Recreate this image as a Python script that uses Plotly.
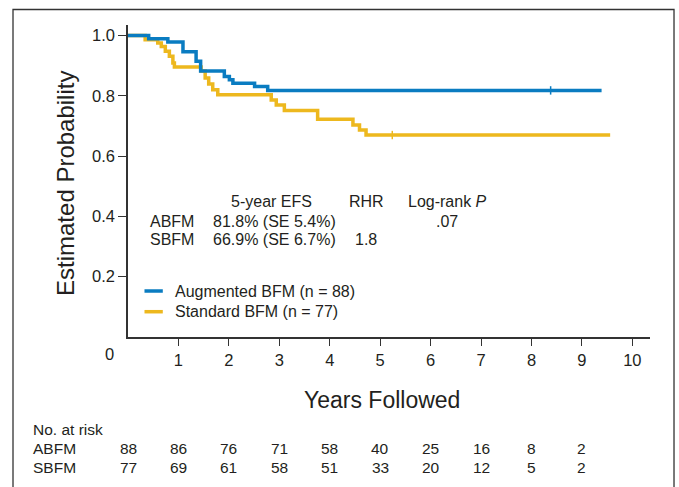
import plotly.graph_objects as go

# ---- data ----
abfm_t = [0, 0.41, 0.79, 1.09, 1.35, 1.44, 1.91, 2.01, 2.08, 2.51, 2.77, 9.39]
abfm_s = [1.0, 0.989, 0.979, 0.946, 0.915, 0.882, 0.864, 0.853, 0.842, 0.831, 0.818, 0.818]

sbfm_t = [0, 0.34, 0.59, 0.66, 0.74, 0.82, 0.89, 0.92, 1.45, 1.53, 1.60, 1.68, 1.78,
          2.84, 2.94, 3.10, 3.76, 4.46, 4.59, 4.72, 9.56]
sbfm_s = [1.0, 0.986, 0.975, 0.964, 0.948, 0.931, 0.909, 0.896, 0.882, 0.859, 0.839, 0.820, 0.804,
          0.786, 0.770, 0.751, 0.722, 0.703, 0.687, 0.670, 0.670]

abfm_cens_t = [8.38]
abfm_cens_s = [0.818]
sbfm_cens_t = [5.24]
sbfm_cens_s = [0.670]

x_ticks = [1, 2, 3, 4, 5, 6, 7, 8, 9, 10]
y_ticks = [0.2, 0.4, 0.6, 0.8, 1.0]
y_tick_labels = ["0.2", "0.4", "0.6", "0.8", "1.0"]

risk_times = [0, 1, 2, 3, 4, 5, 6, 7, 8, 9]
risk_abfm = [88, 86, 76, 71, 58, 40, 25, 16, 8, 2]
risk_sbfm = [77, 69, 61, 58, 51, 33, 20, 12, 5, 2]

series_names = ["Augmented BFM (n = 88)", "Standard BFM (n = 77)"]

BLUE = "#0A7CC1"
YELLOW = "#EDB81E"
TXT = "#231F20"
AX = "#333333"
FONT = "Liberation Sans, Arial, Helvetica, sans-serif"

fig = go.Figure()
fig.add_trace(go.Scatter(x=sbfm_t, y=sbfm_s, mode="lines", line=dict(color=YELLOW, width=3.5, shape="hv"),
                         name=series_names[1], showlegend=False))
fig.add_trace(go.Scatter(x=abfm_t, y=abfm_s, mode="lines", line=dict(color=BLUE, width=3.5, shape="hv"),
                         name=series_names[0], showlegend=False))
fig.add_trace(go.Scatter(x=abfm_cens_t, y=abfm_cens_s, mode="markers",
                         marker=dict(symbol="line-ns", size=6, line=dict(color=BLUE, width=1.5)), showlegend=False))
fig.add_trace(go.Scatter(x=sbfm_cens_t, y=sbfm_cens_s, mode="markers",
                         marker=dict(symbol="line-ns", size=6, line=dict(color=YELLOW, width=1.5)), showlegend=False))

ann = []
def A(x, y, text, xanchor="center", size=16, xref="x", yref="y", **kw):
    ann.append(dict(x=x, y=y, xref=xref, yref=yref, text=text, showarrow=False, xanchor=xanchor,
                    yanchor="middle", font=dict(size=size, color=TXT, family=FONT), **kw))

# summary table
A(2.855, 0.449, "5-year EFS")
A(4.72, 0.449, "RHR")
A(6.335, 0.449, "Log-rank <i>P</i>")
A(0.397, 0.383, "ABFM", xanchor="left")
A(1.646, 0.383, "81.8% (SE 5.4%)", xanchor="left")
A(6.32, 0.383, ".07")
A(0.397, 0.322, "SBFM", xanchor="left")
A(1.646, 0.322, "66.9% (SE 6.7%)", xanchor="left")
A(4.72, 0.322, "1.8")

# legend
shapes = []
leg_y = [0.1526, 0.0839]
for yy, col, name in zip(leg_y, [BLUE, YELLOW], series_names):
    shapes.append(dict(type="line", xref="x", yref="y", x0=0.327, x1=0.69, y0=yy, y1=yy,
                       line=dict(color=col, width=3.5)))
    A(0.898, yy, name, xanchor="left")

# axis titles and the zero label
A(0.4866, -0.202, "Years Followed", xref="paper", yref="paper", size=23)
A(-0.1188, 0.4936, "Estimated Probability", xref="paper", yref="paper", size=24, textangle=-90)
A(-0.0345, -0.0545, "0", xref="paper", yref="paper", size=16.5)

# number at risk
A(-0.1858, -0.298, "No. at risk", xanchor="left", xref="paper", yref="paper", size=15.5)
A(-0.1858, -0.357, "ABFM", xanchor="left", xref="paper", yref="paper", size=15.5)
A(-0.1858, -0.417, "SBFM", xanchor="left", xref="paper", yref="paper", size=15.5)
for t, a, s in zip(risk_times, risk_abfm, risk_sbfm):
    A(t, -0.357, str(a), yref="paper", size=15.5)
    A(t, -0.417, str(s), yref="paper", size=15.5)

# outer frame
shapes.append(dict(type="rect", xref="paper", yref="paper", x0=-0.2203, x1=1.046, y0=-0.6, y1=1.0497,
                   line=dict(color=AX, width=1.3), fillcolor="rgba(0,0,0,0)", layer="below"))

fig.update_layout(
    width=679, height=487,
    margin=dict(l=128, r=29, t=25, b=150, pad=0),
    paper_bgcolor="white", plot_bgcolor="white",
    font=dict(family=FONT, color=TXT, size=16),
    annotations=ann, shapes=shapes,
    showlegend=False,
    hovermode=False,
)
fig.update_xaxes(range=[0, 10.35], tickvals=x_ticks, ticktext=[str(v) for v in x_ticks],
                 ticks="outside", ticklen=7, tickcolor=AX, tickwidth=1.2,
                 showline=True, linecolor=AX, linewidth=1.5, showgrid=False, zeroline=False,
                 tickfont=dict(size=16.5, color=TXT, family=FONT))
fig.update_yaxes(range=[0, 1.035], tickvals=y_ticks, ticktext=y_tick_labels,
                 ticks="outside", ticklen=8, tickcolor=AX, tickwidth=1.2,
                 showline=True, linecolor=AX, linewidth=1.5, showgrid=False, zeroline=False,
                 tickfont=dict(size=16.5, color=TXT, family=FONT))

fig.write_html("out.html", config={"displayModeBar": False},
               post_script="document.body.style.margin='0';document.body.style.overflow='hidden';")
